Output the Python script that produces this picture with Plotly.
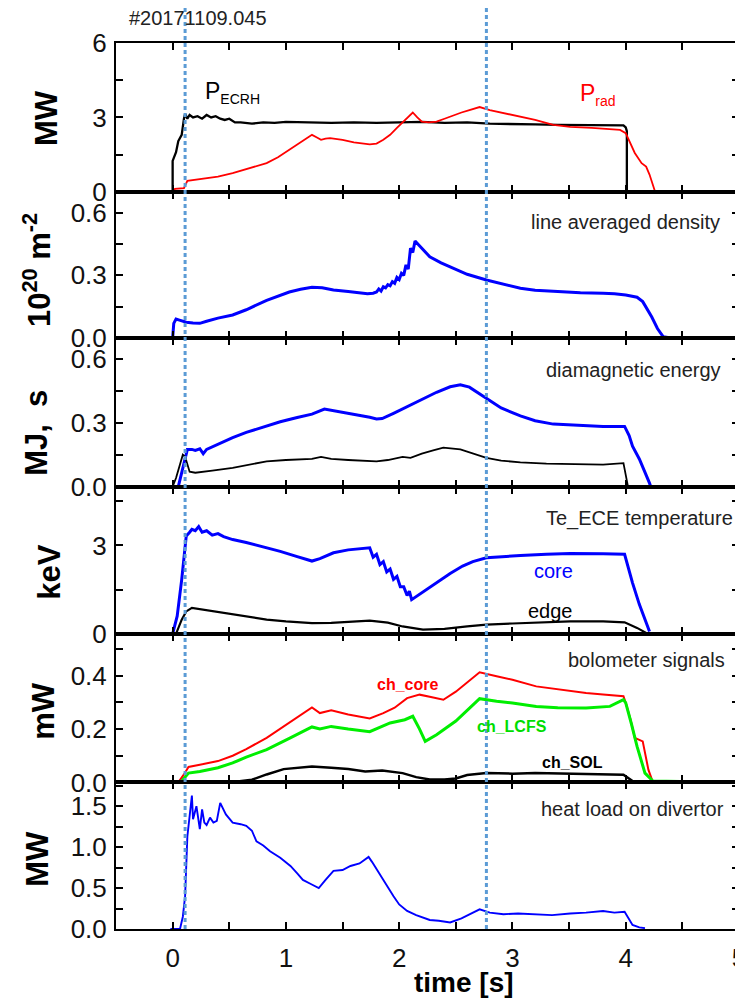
import plotly.graph_objects as go
from plotly.subplots import make_subplots

# ---------------- data ----------------
# Panel 1: heating and radiated power [MW]
t_ecrh = [-0.5, 0.0, 0.0, 0.02, 0.03, 0.05, 0.07, 0.08, 0.1, 0.11, 0.13, 0.15, 0.18, 0.22, 0.26, 0.3,
          0.34, 0.38, 0.42, 0.46, 0.5, 0.55, 0.6, 0.7, 0.8, 0.9, 1.0, 1.2, 1.4, 1.6, 1.8, 2.0, 2.2,
          2.4, 2.6, 2.8, 3.0, 3.2, 3.4, 3.6, 3.8, 3.98, 4.0, 4.01, 4.01, 5.0]
p_ecrh = [0, 0, 1.25, 1.45, 1.6, 2.05, 2.25, 2.3, 2.95, 3.15, 2.95, 3.1, 3.0, 3.05, 2.95, 3.1,
          3.0, 3.05, 2.95, 2.9, 2.95, 2.8, 2.8, 2.75, 2.8, 2.78, 2.82, 2.8, 2.78, 2.8, 2.78, 2.8, 2.82,
          2.78, 2.8, 2.75, 2.75, 2.72, 2.7, 2.7, 2.68, 2.68, 2.6, 2.45, 0, 0]
t_rad = [-0.5, 0.0, 0.02, 0.1, 0.13, 0.2, 0.3, 0.4, 0.53, 0.65, 0.75, 0.83, 0.93, 1.03, 1.13, 1.23,
         1.27, 1.31, 1.35, 1.39, 1.5, 1.6, 1.74, 1.8, 1.86, 1.92, 1.98, 2.03, 2.07, 2.12, 2.16, 2.2,
         2.26, 2.33, 2.4, 2.48, 2.55, 2.62, 2.71, 2.8, 2.9, 3.07, 3.2, 3.36, 3.51, 3.7, 3.85, 3.95,
         4.0, 4.04, 4.08, 4.14, 4.18, 4.21, 4.26, 5.0]
p_rad = [0, 0, 0.12, 0.15, 0.45, 0.5, 0.55, 0.62, 0.76, 0.92, 1.05, 1.16, 1.4, 1.69, 2.0, 2.3,
         2.2, 2.1, 2.15, 2.17, 2.1, 2.0, 1.92, 1.95, 2.1, 2.3, 2.58, 2.8, 2.97, 3.2, 3.0, 2.83,
         2.8, 2.83, 2.95, 3.1, 3.2, 3.3, 3.42, 3.3, 3.2, 3.05, 2.9, 2.7, 2.62, 2.58, 2.55, 2.5,
         2.37, 2.0, 1.57, 1.16, 1.02, 0.7, 0, 0]

# Panel 2: line averaged density [1e20 m^-2]
t_ne = [-0.5, 0.0, 0.01, 0.03, 0.06, 0.12, 0.18, 0.24, 0.3, 0.4, 0.53, 0.65, 0.83, 0.93, 1.03, 1.13,
        1.23, 1.32, 1.42, 1.55, 1.65, 1.72, 1.77, 1.8, 1.82, 1.84, 1.86, 1.88, 1.9, 1.92, 1.94, 1.96,
        1.98, 2.0, 2.02, 2.04, 2.06, 2.08, 2.1, 2.12, 2.14, 2.18, 2.27, 2.37, 2.48, 2.6, 2.77, 2.9,
        3.07, 3.2, 3.36, 3.6, 3.8, 3.9, 4.0, 4.1, 4.15, 4.19, 4.23, 4.28, 4.33, 4.4, 5.0]
ne = [0, 0, 0.07, 0.09, 0.085, 0.075, 0.072, 0.07, 0.08, 0.095, 0.11, 0.135, 0.18, 0.2, 0.22, 0.233,
      0.243, 0.24, 0.23, 0.222, 0.215, 0.212, 0.214, 0.22, 0.235, 0.225, 0.245, 0.24, 0.255, 0.25,
      0.27, 0.262, 0.29, 0.28, 0.31, 0.3, 0.35, 0.33, 0.43, 0.41, 0.465, 0.44, 0.389, 0.36, 0.333,
      0.305, 0.278, 0.26, 0.238, 0.228, 0.222, 0.216, 0.214, 0.212, 0.206, 0.195, 0.174, 0.14, 0.1,
      0.045, 0.006, 0, 0]

# Panel 3: diamagnetic energy [MJ] and confinement time [s]
t_zero = [-0.5, 5.0]
zero = [0, 0]
t_wd = [0.05, 0.08, 0.12, 0.13, 0.17, 0.2, 0.24, 0.27, 0.3, 0.4, 0.53, 0.65, 0.83, 0.95, 1.1, 1.23,
        1.34, 1.45, 1.6, 1.74, 1.8, 1.85, 1.95, 2.09, 2.2, 2.33, 2.45, 2.54, 2.62, 2.7, 2.77, 2.9,
        3.07, 3.2, 3.36, 3.6, 3.8, 3.99, 4.03, 4.06, 4.12, 4.21, 4.22]
wd = [0, 0.07, 0.155, 0.175, 0.175, 0.17, 0.178, 0.155, 0.175, 0.2, 0.23, 0.255, 0.286, 0.305,
      0.325, 0.341, 0.365, 0.355, 0.338, 0.326, 0.318, 0.32, 0.345, 0.381, 0.41, 0.444, 0.47,
      0.479, 0.468, 0.44, 0.413, 0.37, 0.333, 0.31, 0.294, 0.287, 0.283, 0.283, 0.24, 0.19, 0.13,
      0.016, 0]
t_tau = [-0.5, 0.0, 0.03, 0.06, 0.09, 0.11, 0.13, 0.15, 0.2, 0.24, 0.35, 0.53, 0.65, 0.83, 1.0,
         1.23, 1.31, 1.4, 1.55, 1.71, 1.8, 1.9, 2.03, 2.1, 2.2, 2.3, 2.39, 2.54, 2.65, 2.77, 2.9,
         3.07, 3.3, 3.6, 3.8, 3.98, 4.0, 4.02, 5.0]
tau = [0, 0, 0.04, 0.1, 0.15, 0.14, 0.1, 0.07, 0.065, 0.067, 0.075, 0.088, 0.1, 0.119, 0.125,
       0.13, 0.14, 0.13, 0.125, 0.119, 0.119, 0.125, 0.14, 0.135, 0.155, 0.17, 0.183, 0.175, 0.155,
       0.135, 0.122, 0.114, 0.108, 0.104, 0.103, 0.11, 0.05, 0, 0]

# Panel 4: Te ECE [keV]
t_core = [0.0, 0.04, 0.08, 0.12, 0.15, 0.17, 0.2, 0.23, 0.26, 0.3, 0.35, 0.4, 0.45, 0.53, 0.65, 0.75,
          0.83, 0.95, 1.1, 1.23, 1.3, 1.42, 1.55, 1.7, 1.74, 1.77, 1.8, 1.83, 1.86, 1.89, 1.92, 1.95,
          1.98, 2.01, 2.04, 2.07, 2.09, 2.11, 2.2, 2.33, 2.45, 2.56, 2.65, 2.77, 2.9, 3.07, 3.3, 3.51,
          3.8, 3.99, 4.06, 4.12, 4.21]
te_core = [0, 0.6, 1.84, 3.32, 3.45, 3.55, 3.5, 3.64, 3.45, 3.5, 3.35, 3.4, 3.3, 3.2, 3.1, 3.0,
           2.92, 2.8, 2.62, 2.47, 2.55, 2.75, 2.85, 2.9, 2.92, 2.6, 2.7, 2.35, 2.45, 2.1, 2.2, 1.85,
           1.95, 1.6, 1.6, 1.3, 1.45, 1.16, 1.4, 1.73, 2.05, 2.3, 2.45, 2.58, 2.62, 2.66, 2.7, 2.73,
           2.72, 2.7, 1.73, 1.0, 0.08]
t_edge = [-0.5, 0.03, 0.08, 0.12, 0.17, 0.22, 0.3, 0.4, 0.53, 0.65, 0.83, 1.0, 1.23, 1.4, 1.6, 1.74,
          1.9, 2.03, 2.21, 2.4, 2.6, 2.77, 3.0, 3.3, 3.51, 3.8, 3.99, 4.1, 4.18, 5.0]
te_edge = [0, 0, 0.48, 0.76, 0.88, 0.85, 0.8, 0.72, 0.65, 0.58, 0.48, 0.42, 0.36, 0.37, 0.42, 0.45,
           0.38, 0.25, 0.14, 0.17, 0.25, 0.31, 0.35, 0.38, 0.42, 0.42, 0.39, 0.2, 0.03, 0]

# Panel 5: bolometer signals [mW]
t_sol = [-0.5, 0.5, 0.7, 0.83, 0.98, 1.1, 1.23, 1.4, 1.55, 1.7, 1.85, 2.03, 2.15, 2.27, 2.4, 2.5,
         2.6, 2.77, 3.0, 3.2, 3.51, 3.8, 3.98, 4.06, 5.0]
ch_sol = [0, 0, 0.01, 0.03, 0.05, 0.055, 0.06, 0.055, 0.05, 0.041, 0.045, 0.035, 0.02, 0.011, 0.011,
          0.015, 0.028, 0.035, 0.033, 0.035, 0.033, 0.032, 0.029, 0.005, 0]
t_ccore = [-0.5, 0.05, 0.1, 0.14, 0.24, 0.4, 0.53, 0.65, 0.83, 1.03, 1.23, 1.3, 1.4, 1.55, 1.74, 1.86,
           1.96, 2.07, 2.18, 2.28, 2.39, 2.5, 2.6, 2.71, 2.86, 3.0, 3.21, 3.4, 3.65, 3.8, 3.98, 4.0,
           4.04, 4.08, 4.15, 4.2, 4.24, 5.0]
ch_core = [0, 0, 0.03, 0.058, 0.066, 0.08, 0.1, 0.125, 0.167, 0.223, 0.281, 0.26, 0.27, 0.255,
           0.24, 0.26, 0.28, 0.316, 0.329, 0.32, 0.31, 0.34, 0.375, 0.413, 0.398, 0.385, 0.36, 0.35,
           0.335, 0.33, 0.323, 0.298, 0.24, 0.167, 0.154, 0.048, 0, 0]
t_lcfs = [-0.5, 0.07, 0.14, 0.24, 0.4, 0.53, 0.65, 0.83, 1.03, 1.23, 1.3, 1.4, 1.55, 1.74, 1.92,
          2.05, 2.12, 2.18, 2.23, 2.33, 2.5, 2.6, 2.71, 2.86, 3.0, 3.21, 3.4, 3.65, 3.86, 3.98, 4.0,
          4.05, 4.1, 4.17, 4.24, 5.0]
ch_lcfs = [0, 0, 0.035, 0.041, 0.055, 0.073, 0.095, 0.123, 0.165, 0.208, 0.2, 0.21, 0.2, 0.19,
           0.223, 0.235, 0.248, 0.2, 0.154, 0.179, 0.23, 0.27, 0.314, 0.304, 0.298, 0.285, 0.28,
           0.279, 0.285, 0.31, 0.298, 0.22, 0.135, 0.035, 0.005, 0]

# Panel 6: heat load on divertor [MW]
t_hl = [-0.02, 0.065, 0.09, 0.11, 0.13, 0.15, 0.17, 0.18, 0.21, 0.24, 0.26, 0.28, 0.3, 0.33, 0.36,
        0.39, 0.42, 0.47, 0.53, 0.6, 0.65, 0.7, 0.74, 0.8, 0.86, 0.95, 1.04, 1.1, 1.15, 1.22, 1.29,
        1.35, 1.42, 1.5, 1.57, 1.65, 1.73, 1.76, 1.8, 1.86, 1.95, 2.0, 2.07, 2.15, 2.27, 2.35, 2.45,
        2.55, 2.65, 2.71, 2.8, 2.92, 3.05, 3.21, 3.35, 3.51, 3.65, 3.8, 3.9, 3.99, 4.03, 4.06, 4.12,
        4.17]
heat = [0, 0, 0.15, 0.4, 1.13, 1.35, 1.63, 1.34, 1.5, 1.22, 1.46, 1.3, 1.27, 1.36, 1.3, 1.32, 1.54,
        1.4, 1.3, 1.28, 1.26, 1.2, 1.07, 1.02, 0.95, 0.87, 0.77, 0.68, 0.6, 0.55, 0.5, 0.6, 0.71,
        0.72, 0.77, 0.8, 0.88, 0.82, 0.73, 0.6, 0.4, 0.3, 0.22, 0.17, 0.11, 0.1, 0.08, 0.13, 0.2,
        0.24, 0.2, 0.18, 0.19, 0.18, 0.17, 0.19, 0.2, 0.22, 0.2, 0.21, 0.12, 0.05, 0.02, 0.01]

# Time markers (dotted vertical lines)
t_marks = [0.11, 2.77]

# Axis ticks
x_tickvals = [-0.5, 0, 0.5, 1, 1.5, 2, 2.5, 3, 3.5, 4, 4.5, 5]
x_ticktext = ["", "0", "", "1", "", "2", "", "3", "", "4", "", "5"]
y_ranges = [[0, 6], [0, 0.7], [0, 0.7], [0, 5.0], [0, 0.557], [0, 1.79]]
y_tickvals = [[0, 1.5, 3, 4.5, 6], [0, 0.15, 0.3, 0.45, 0.6], [0, 0.15, 0.3, 0.45, 0.6],
              [0, 1.5, 3, 4.5], [0, 0.1, 0.2, 0.3, 0.4, 0.5], [0, 0.25, 0.5, 0.75, 1.0, 1.25, 1.5, 1.75]]
y_ticktext = [["0", "", "3", "", "6"], ["0.0", "", "0.3", "", "0.6"], ["0.0", "", "0.3", "", "0.6"],
              ["0", "", "3", ""], ["0.0", "", "0.2", "", "0.4", ""],
              ["0.0", "", "0.5", "", "1.0", "", "1.5", ""]]

# ---------------- figure ----------------
# The page body has an 8px margin, so the figure is 8px smaller and all
# reference pixel positions are shifted by -8.
OFF = 8
W, H = 743 - OFF, 1008 - 2 * OFF
PLOT_L, PLOT_R, PLOT_T, PLOT_B = 116, 739, 43, 929.3   # reference pixels
ML, MR, MT = PLOT_L - OFF, W - (PLOT_R - OFF), PLOT_T - OFF
MB = H - (PLOT_B - OFF)
PW, PH = W - ML - MR, H - MT - MB
FONT = "Liberation Sans, Arial, sans-serif"


def px(x):
    return (x - PLOT_L) / PW


def py(y):
    return (PLOT_B - y) / PH


def clamp(v):
    return min(1.0, max(0.0, v))


fig = make_subplots(rows=6, cols=1, shared_xaxes=True, vertical_spacing=0)

BLUE, RED, GREEN, BLACK = "#0000FF", "#FF0000", "#00EE00", "#000000"


def add(t, v, row, color, width):
    fig.add_trace(go.Scatter(x=t, y=v, mode="lines", line=dict(color=color, width=width),
                             showlegend=False, hoverinfo="skip"), row=row, col=1)


add(t_ecrh, p_ecrh, 1, BLACK, 2.3)
add(t_rad, p_rad, 1, RED, 1.8)
add(t_ne, ne, 2, BLUE, 3)
add(t_zero, zero, 3, "#B00000", 1.5)
add(t_wd, wd, 3, BLUE, 3)
add(t_tau, tau, 3, BLACK, 1.8)
add(t_edge, te_edge, 4, BLACK, 2.2)
add(t_core, te_core, 4, BLUE, 3)
add(t_sol, ch_sol, 5, BLACK, 2.5)
add(t_ccore, ch_core, 5, RED, 2)
add(t_lcfs, ch_lcfs, 5, GREEN, 3)
add(t_hl, heat, 6, BLUE, 1.9)

# panel pixel boundaries (reference pixels) -> domains
bounds = [43, 192, 338, 486.7, 634, 782.7, 929.3]
axis_common = dict(showline=True, linecolor="black", linewidth=2, mirror="allticks",
                   ticks="inside", ticklen=7, tickwidth=2, tickcolor="black",
                   showgrid=False, zeroline=False, automargin=False,
                   tickfont=dict(family=FONT, size=26, color="#111"))
for i in range(6):
    r = i + 1
    dom = [clamp(py(bounds[i + 1])), clamp(py(bounds[i]))]
    fig.update_yaxes(row=r, col=1, domain=dom, range=y_ranges[i], tickmode="array",
                     tickvals=y_tickvals[i], ticktext=y_ticktext[i], ticklabelstandoff=2,
                     **axis_common)
    fig.update_xaxes(row=r, col=1, range=[-0.5, 5], tickmode="array", tickvals=x_tickvals,
                     ticktext=x_ticktext, showticklabels=(r == 6), ticklabelstandoff=5,
                     ticklabeloverflow="allow", **axis_common)

# dotted markers spanning from top of image to bottom of last panel
for tm in t_marks:
    fig.add_shape(type="line", xref="x6", yref="paper", x0=tm, x1=tm, y0=0, y1=py(OFF),
                  line=dict(color="#5B9BD5", width=3, dash="4px,3px"), layer="above")

ann = []


def text(s, x, y, size, color="#111", bold=False, xanchor="center", angle=0):
    if bold:
        s = "<b>" + s + "</b>"
    ann.append(dict(text=s, x=px(x), y=py(y), xref="paper", yref="paper", showarrow=False,
                    xanchor=xanchor, yanchor="middle", textangle=angle,
                    font=dict(family=FONT, size=size, color=color)))


# y-axis titles
text("MW", 47, 118, 31, "#000", True, angle=-90)
text("10<sup>20</sup> m<sup>-2</sup>", 37, 270, 31, "#000", True, angle=-90)
text("MJ,  s", 37, 433, 31, "#000", True, angle=-90)
text("keV", 50, 573, 31, "#000", True, angle=-90)
text("mW", 44, 711, 31, "#000", True, angle=-90)
text("MW", 38, 859, 31, "#000", True, angle=-90)

# x title
text("time [s]", 464, 983, 28, "#000", True)

# shot number
text("#20171109.045", 127, 18, 20, "#222", xanchor="left")

# panel labels
text("line averaged density", 722, 222, 20, "#222", xanchor="right")
text("diamagnetic energy", 723, 370, 20, "#222", xanchor="right")
text("Te_ECE temperature", 735, 519, 20, "#222", xanchor="right")
text("bolometer signals", 727, 660, 20, "#222", xanchor="right")
text("heat load on divertor", 726, 809, 20, "#222", xanchor="right")

# curve labels
text("P<sub><span style='font-size:14px'>ECRH</span></sub>", 203, 93, 23, "#000", xanchor="left")
text("P<sub><span style='font-size:14px'>rad</span></sub>", 578, 95, 23, RED, xanchor="left")
text("core", 553, 571, 20, BLUE)
text("edge", 550, 611, 20, "#000")
text("ch_core", 407, 685, 16, RED, True)
text("ch_LCFS", 512, 727, 16, "#00DD00", True)
text("ch_SOL", 572, 763, 16, "#000", True)

fig.update_layout(width=W, height=H, margin=dict(l=ML, r=MR, t=MT, b=MB, pad=0, autoexpand=False),
                  paper_bgcolor="white", plot_bgcolor="white", annotations=ann,
                  font=dict(family=FONT))

fig.write_html("out.html")
